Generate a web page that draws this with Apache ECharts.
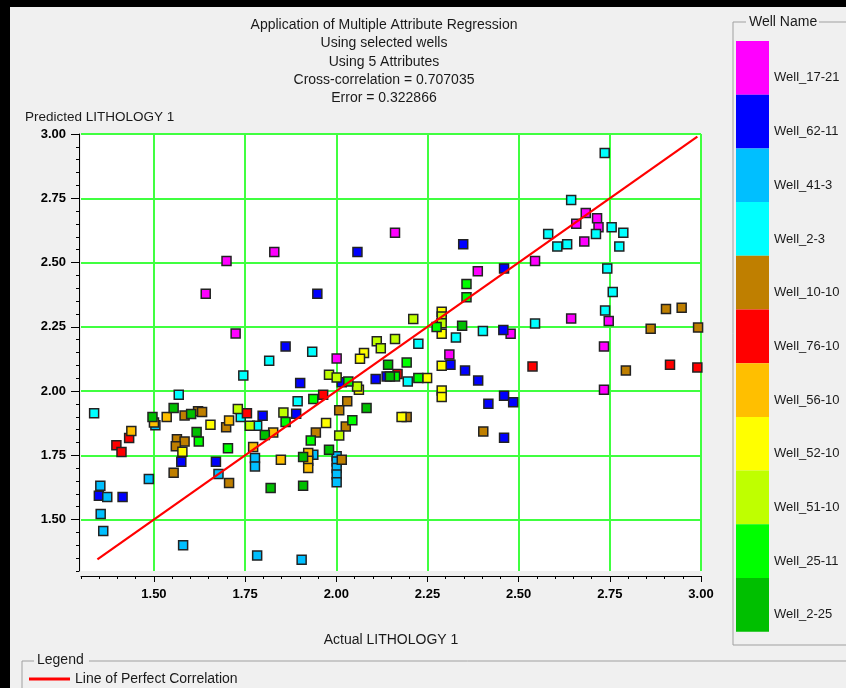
<!DOCTYPE html>
<html>
<head>
<meta charset="utf-8">
<script src="https://cdn.jsdelivr.net/npm/echarts@6/dist/echarts.min.js"></script>
<style>
  html, body { margin: 0; padding: 0; background: #f0f0f0; }
  #chart { width: 846px; height: 688px; }
</style>
</head>
<body>
<div id="chart"></div>
<script>
// Cross-plot of predicted vs actual lithology, one series per well.
const titleLines = [
  'Application of Multiple Attribute Regression',
  'Using selected wells',
  'Using 5 Attributes',
  'Cross-correlation = 0.707035',
  'Error = 0.322866'
];
const xAxisTitle = 'Actual LITHOLOGY 1';
const yAxisTitle = 'Predicted LITHOLOGY 1';
const xTickValues = [1.50, 1.75, 2.00, 2.25, 2.50, 2.75, 3.00];
const yTickValues = [1.50, 1.75, 2.00, 2.25, 2.50, 2.75, 3.00];

const wellNames = ['Well_17-21', 'Well_62-11', 'Well_41-3', 'Well_2-3', 'Well_10-10',
  'Well_76-10', 'Well_56-10', 'Well_52-10', 'Well_51-10', 'Well_25-11', 'Well_2-25'];
const wellColors = ['#ff00ff', '#0000ff', '#00bfff', '#00ffff', '#bf7f00',
  '#ff0000', '#ffbf00', '#ffff00', '#bfff00', '#00ff00', '#00bf00'];

// [actual, predicted] pairs per well
const well_17_21 = [[1.830, 2.541], [1.699, 2.506], [1.642, 2.379], [1.724, 2.224], [2.161, 2.616],
  [2.388, 2.466], [2.684, 2.693], [2.658, 2.651], [2.715, 2.672], [2.719, 2.637], [2.680, 2.582],
  [2.545, 2.506], [2.747, 2.273], [2.644, 2.282], [2.478, 2.223], [2.734, 2.173], [2.734, 2.005],
  [2.001, 2.127], [2.310, 2.142]];
const well_62_11 = [[1.861, 2.173], [2.058, 2.541], [2.348, 2.571], [1.948, 2.379], [2.460, 2.477],
  [2.458, 2.238], [2.460, 1.982], [2.485, 1.956], [2.460, 1.818], [2.015, 2.034], [1.901, 2.031],
  [1.890, 1.912], [2.108, 2.047], [2.138, 2.057], [2.313, 2.102], [2.353, 2.080], [2.389, 2.041],
  [2.417, 1.951], [1.798, 1.904], [1.575, 1.725], [1.670, 1.725], [1.349, 1.593], [1.414, 1.588]];
const well_41_3 = [[1.937, 1.752], [2.001, 1.746], [2.001, 1.726], [2.001, 1.701], [2.001, 1.675],
  [2.001, 1.645], [1.905, 1.344], [1.777, 1.740], [1.777, 1.707], [1.504, 1.867], [1.677, 1.677],
  [1.486, 1.658], [1.353, 1.632], [1.372, 1.588], [1.354, 1.522], [1.361, 1.456], [1.580, 1.400],
  [1.783, 1.360]];
const well_2_3 = [[2.736, 2.926], [2.644, 2.743], [2.755, 2.637], [2.787, 2.616], [2.712, 2.611],
  [2.581, 2.611], [2.606, 2.562], [2.633, 2.571], [2.776, 2.562], [2.743, 2.477], [2.758, 2.385],
  [2.737, 2.313], [2.545, 2.263], [2.225, 2.184], [2.328, 2.208], [2.402, 2.234], [1.934, 2.153],
  [1.894, 1.960], [2.196, 2.037], [1.816, 2.118], [1.783, 1.865], [1.568, 1.986], [1.336, 1.914],
  [1.738, 1.899], [1.745, 2.061]];
const well_10_10 = [[2.904, 2.319], [2.947, 2.324], [2.862, 2.242], [2.992, 2.247], [2.794, 2.080],
  [2.030, 1.960], [2.008, 1.925], [2.026, 1.862], [1.944, 1.839], [2.015, 1.733], [2.403, 1.843],
  [2.193, 1.899], [1.584, 1.905], [1.621, 1.921], [1.632, 1.919], [1.698, 1.859], [1.563, 1.813],
  [1.584, 1.804], [1.560, 1.785], [1.554, 1.682], [1.706, 1.642]];
const well_76_10 = [[2.538, 2.096], [2.915, 2.102], [2.990, 2.092], [1.964, 1.986], [2.168, 2.066],
  [1.755, 1.914], [1.432, 1.817], [1.397, 1.789], [1.411, 1.763]];
const well_56_10 = [[1.923, 1.759], [1.923, 1.729], [1.923, 1.701], [1.500, 1.878], [1.535, 1.899],
  [1.706, 1.885], [1.438, 1.845], [1.827, 1.839], [1.772, 1.782], [1.848, 1.733]];
const well_52_10 = [[2.289, 2.309], [2.289, 2.223], [2.076, 2.148], [2.065, 2.126], [2.062, 2.005],
  [1.972, 1.876], [2.249, 2.051], [2.289, 2.002], [2.289, 1.977], [2.289, 2.098], [2.179, 1.899],
  [1.655, 1.869], [1.578, 1.764]];
const well_51_10 = [[2.289, 2.290], [2.289, 2.264], [2.211, 2.280], [2.161, 2.203], [2.111, 2.194],
  [2.122, 2.167], [1.980, 2.063], [2.001, 2.053], [2.057, 2.018], [2.008, 1.827], [1.855, 1.917],
  [1.730, 1.930], [1.763, 1.865]];
const well_25_11 = [[2.357, 2.416], [2.357, 2.365], [2.275, 2.249], [2.033, 2.037], [1.937, 1.969],
  [2.044, 1.886], [1.930, 1.808], [2.161, 2.057], [2.225, 2.051], [2.193, 2.111], [1.861, 1.880],
  [1.623, 1.804], [1.703, 1.778]];
const well_2_25 = [[2.345, 2.254], [2.083, 1.934], [1.980, 1.772], [1.909, 1.743], [1.909, 1.632],
  [2.142, 2.102], [2.147, 2.057], [1.804, 1.829], [1.554, 1.934], [1.496, 1.899], [1.602, 1.911],
  [1.617, 1.841], [1.820, 1.623]];

// Line of perfect correlation (actual == predicted)
const perfectLineX = [1.345, 2.990];
const perfectLineY = [1.345, 2.990];

const wellData = [well_17_21, well_62_11, well_41_3, well_2_3, well_10_10, well_76_10,
  well_56_10, well_52_10, well_51_10, well_25_11, well_2_25];

const FONT = '"Liberation Sans", Arial, sans-serif';
const TEXT = '#1a1a1a';

const chart = echarts.init(document.getElementById('chart'), null, { renderer: 'canvas' });

const scatterSeries = wellNames.map((name, i) => ({
  name: name,
  type: 'scatter',
  xAxisIndex: 0,
  yAxisIndex: 0,
  symbol: 'rect',
  symbolSize: 9,
  itemStyle: { color: wellColors[i], borderColor: '#222', borderWidth: 1.5, opacity: 1 },
  emphasis: { disabled: true },
  data: wellData[i]
}));

const lineSeries = {
  name: 'Line of Perfect Correlation',
  type: 'line',
  xAxisIndex: 0,
  yAxisIndex: 0,
  symbol: 'none',
  z: 5,
  itemStyle: { color: '#ff0000' },
  lineStyle: { color: '#ff0000', width: 2.2 },
  emphasis: { disabled: true },
  data: perfectLineX.map((x, i) => [x, perfectLineY[i]])
};

const fmt = v => v.toFixed(2);
const labelStyle = { color: '#000', fontFamily: FONT, fontSize: 13, fontWeight: 'bold' };

const option = {
  backgroundColor: '#f0f0f0',
  animation: false,
  title: [
    {
      text: titleLines.join('\n'),
      left: 379, top: 11, textAlign: 'center',
      textStyle: { fontFamily: FONT, fontSize: 14, fontWeight: 'normal', color: TEXT, lineHeight: 18.3 }
    },
    {
      text: yAxisTitle,
      left: 20, top: 105,
      textStyle: { fontFamily: FONT, fontSize: 13.5, fontWeight: 'normal', color: TEXT }
    }
  ],
  grid: { left: 81, top: 134, width: 620, height: 437, show: true, backgroundColor: '#ffffff', borderWidth: 0 },
  xAxis: [
    {
      type: 'value', min: 1.3, max: 3.0, interval: 0.05, position: 'bottom', offset: 5,
      axisLine: { show: true, lineStyle: { color: '#000', width: 1 } },
      axisTick: { show: true, length: 3, lineStyle: { color: '#000' } },
      axisLabel: { show: false },
      splitLine: { show: false }
    },
    {
      type: 'value', min: 1.3, max: 3.0, position: 'bottom', offset: 5,
      axisLine: { show: false },
      axisTick: { show: true, customValues: xTickValues, length: 6, lineStyle: { color: '#000' } },
      axisLabel: Object.assign({ customValues: xTickValues, formatter: fmt, margin: 12 }, labelStyle),
      splitLine: { show: true, customValues: xTickValues, lineStyle: { color: '#40ff40', width: 2 } },
      name: xAxisTitle, nameLocation: 'middle', nameGap: 57,
      nameTextStyle: { fontFamily: FONT, fontSize: 14, color: TEXT }
    }
  ],
  yAxis: [
    {
      type: 'value', min: 1.3, max: 3.0, interval: 0.05, position: 'left', offset: 2,
      axisLine: { show: true, lineStyle: { color: '#000', width: 1 } },
      axisTick: { show: true, length: 3, lineStyle: { color: '#000' } },
      axisLabel: { show: false },
      splitLine: { show: false }
    },
    {
      type: 'value', min: 1.3, max: 3.0, position: 'left', offset: 2,
      axisLine: { show: false },
      axisTick: { show: true, customValues: yTickValues, length: 8, lineStyle: { color: '#000' } },
      axisLabel: Object.assign({ customValues: yTickValues, formatter: fmt, margin: 13 }, labelStyle),
      splitLine: { show: true, customValues: yTickValues, lineStyle: { color: '#40ff40', width: 2 } }
    }
  ],
  legend: [
    {
      orient: 'vertical', left: 736, top: 41, padding: 0,
      itemWidth: 33, itemHeight: 53.7, itemGap: 0,
      icon: 'rect', selectedMode: false,
      data: wellNames,
      itemStyle: { borderWidth: 0 },
      formatter: name => '\n' + name,
      textStyle: { fontFamily: FONT, fontSize: 13, color: TEXT, lineHeight: 20 }
    },
    {
      left: 29, top: 672, padding: 0, itemWidth: 41, itemHeight: 3, itemGap: 0,
      icon: 'rect', selectedMode: false,
      data: ['Line of Perfect Correlation'],
      itemStyle: { color: '#ff0000' },
      textStyle: { fontFamily: FONT, fontSize: 14, color: TEXT }
    }
  ],
  graphic: [
    // window frame
    { type: 'rect', shape: { x: 0, y: 0, width: 846, height: 7 }, style: { fill: '#000' }, silent: true },
    { type: 'rect', shape: { x: 0, y: 0, width: 10, height: 688 }, style: { fill: '#000' }, silent: true },
    // "Well Name" group box
    { type: 'polyline', shape: { points: [[746, 22], [733, 22], [733, 645], [846, 645]] },
      style: { stroke: '#a0a0a0', fill: null, lineWidth: 1 }, silent: true },
    { type: 'line', shape: { x1: 819, y1: 22, x2: 846, y2: 22 }, style: { stroke: '#a0a0a0', lineWidth: 1 }, silent: true },
    { type: 'text', left: 749, top: 15, style: { text: 'Well Name', font: '14px ' + FONT, fill: TEXT }, silent: true },
    // "Legend" group box
    { type: 'polyline', shape: { points: [[34, 661], [22, 661], [22, 690]] },
      style: { stroke: '#a0a0a0', fill: null, lineWidth: 1 }, silent: true },
    { type: 'line', shape: { x1: 89, y1: 661, x2: 846, y2: 661 }, style: { stroke: '#a0a0a0', lineWidth: 1 }, silent: true },
    { type: 'text', left: 37, top: 653, style: { text: 'Legend', font: '14px ' + FONT, fill: TEXT }, silent: true }
  ],
  series: scatterSeries.concat([lineSeries])
};

chart.setOption(option);
</script>
</body>
</html>
